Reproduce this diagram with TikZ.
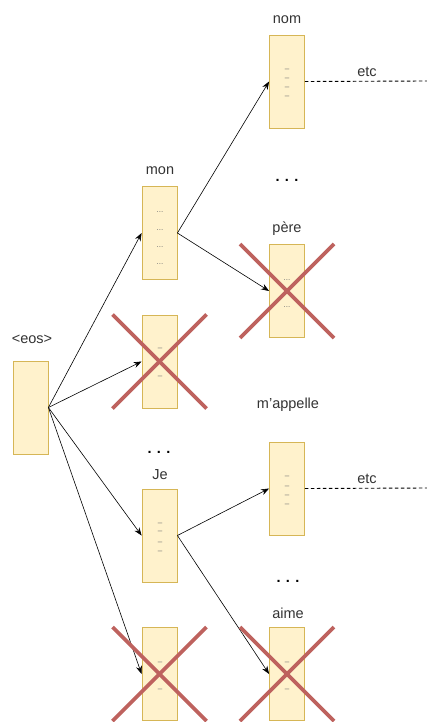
\documentclass[tikz,border=0pt]{standalone}
\usepackage{fontspec}
\setmainfont{Liberation Sans}
\usetikzlibrary{arrows.meta}
\definecolor{boxfill}{HTML}{FFF2CC}
\definecolor{boxline}{HTML}{D6B656}
\definecolor{crossred}{HTML}{B85450}
\definecolor{txt}{HTML}{333333}
\begin{document}
\begin{tikzpicture}[x=1pt,y=-1pt,
  font=\fontsize{14.5}{17}\selectfont,
  tok/.style={draw=boxline,fill=boxfill,line width=0.8pt,minimum width=35pt,minimum height=93pt,inner sep=0pt},
  lbl/.style={text=txt,inner sep=0pt},
  inmark/.style={text=black!55,inner sep=0pt,font=\fontsize{8}{9}\selectfont},
  more/.style={inner sep=0pt,font=\bfseries\fontsize{14.5}{17}\selectfont},
  link/.style={black,line width=0.6pt,-{Stealth[length=8pt,width=6pt]}},
  etcline/.style={black,line width=0.9pt,dash pattern=on 3.5pt off 2.5pt},
  crossline/.style={crossred!92!white,line width=3.8pt}]
\useasboundingbox (0,0) rectangle (427,722);

% token boxes
\node[tok] (eos) at (30.5,407.5) {};
\node[tok] (mon) at (159.5,233) {};
\node[tok] (x1) at (159.5,361.5) {};
\node[tok] (je) at (159.5,535.5) {};
\node[tok] (x2) at (159.5,674) {};
\node[tok] (nom) at (287,81.5) {};
\node[tok] (pere) at (287,291) {};
\node[tok] (mapp) at (287,488.5) {};
\node[tok] (aime) at (287,674) {};

% word labels
\node[lbl] (leos) at (32,339) {<eos>};
\node[lbl] (lmon) at (160,171) {mon};
\node[lbl] (lje) at (160,475) {Je};
\node[lbl] (lnom) at (287,20) {nom};
\node[lbl] (lpere) at (287,229) {père};
\node[lbl] (lmapp) at (288,405) {m'appelle};
\node[lbl] (laime) at (288,613) {aime};

% ellipses between candidates
\node[more] (d1) at (159,452) {. . .};
\node[more] (d2) at (287,180) {. . .};
\node[more] (d3) at (288,581) {. . .};

% marks inside the boxes
\foreach \y in {212,230,247,264} \node[inmark] at (160,\y) {...};
\foreach \y in {70,79,88,97} \node[inmark] at (287,\y) {–};
\foreach \y in {349,377} \node[inmark] at (160,\y) {–};
\node[inmark] at (287,280) {...};
\node[inmark] at (287,294) {–};
\node[inmark] at (287,307) {...};
\foreach \y in {524,532,543,552} \node[inmark] at (160,\y) {–};
\foreach \y in {477,487,496,505} \node[inmark] at (287,\y) {–};
\foreach \y in {663,690} \node[inmark] at (160,\y) {–};
\foreach \y in {663,690} \node[inmark] at (287,\y) {–};

% continuation lines
\coordinate (e1) at (427,81);
\coordinate (e2) at (427,488);
\draw[etcline] (nom.east) -- (e1);
\draw[etcline] (mapp.east) -- (e2);
\node[lbl] (etc1) at (367,72) {etc};
\node[lbl] (etc2) at (367,479) {etc};

% expansions
\draw[link] (eos.east) -- (mon.west);
\draw[link] (eos.east) -- (x1.west);
\draw[link] (eos.east) -- (je.west);
\draw[link] (eos.east) -- (x2.west);
\draw[link] (mon.east) -- (nom.west);
\draw[link] (mon.east) -- (pere.west);
\draw[link] (je.east) -- (mapp.west);
\draw[link] (je.east) -- (aime.west);

% pruned candidates
\foreach \n in {x1,x2,pere,aime}{
  \draw[crossline] ([shift={(-47,-47)}]\n.center) -- ([shift={(47,47)}]\n.center);
  \draw[crossline] ([shift={(-47,47)}]\n.center) -- ([shift={(47,-47)}]\n.center);
}
\end{tikzpicture}
\end{document}
